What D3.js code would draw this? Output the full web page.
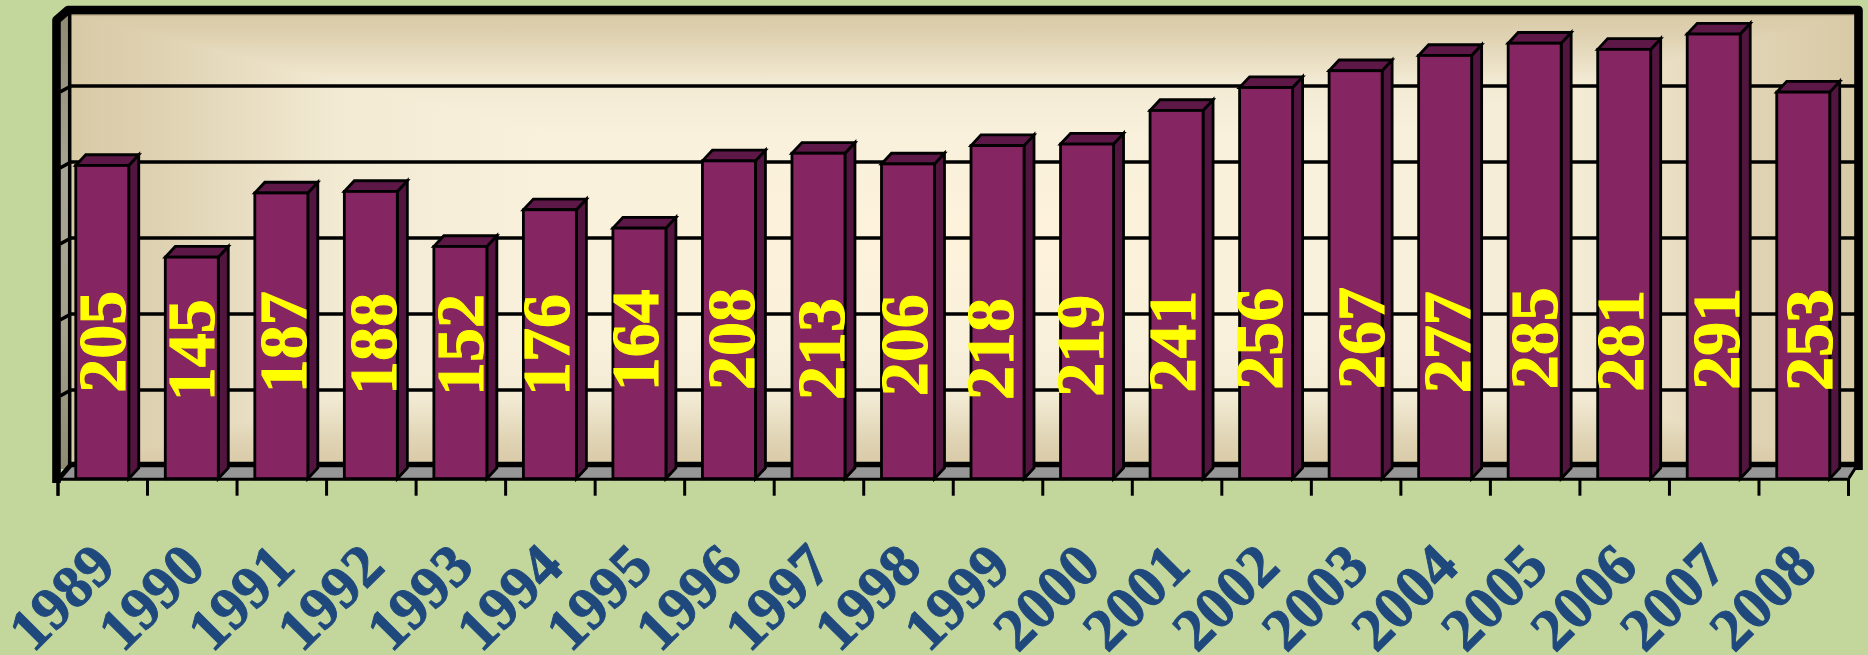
<!DOCTYPE html>
<html><head><meta charset="utf-8">
<style>html,body{margin:0;padding:0;background:#C3D69B;overflow:hidden}svg{display:block}</style>
<script src="https://cdn.jsdelivr.net/npm/d3@7/dist/d3.min.js"></script>
</head><body><script>
const years = ["1989","1990","1991","1992","1993","1994","1995","1996","1997","1998","1999","2000","2001","2002","2003","2004","2005","2006","2007","2008"];
const values = [205,145,187,188,152,176,164,208,213,206,218,219,241,256,267,277,285,281,291,253];
const yTickCount = 6;
const yMax = 300;

// The original's data labels were hand-placed: offsets from the bar centre / a common line.
const labelNudgeX = [-0.5,-0.5,2.2,2.5,-0.3,-3.9,-4.4,1.8,2.4,-3.9,-7.3,-7.3,-4.5,-6.8,5.4,2.3,-0.7,-4.1,2.3,5.3];
const labelNudgeY = [-0.3,8.3,0.2,2,3,3,-1.7,-3,7,3.3,7,3.8,-0.5,-3.3,-4,0.3,-3.7,-1.2,-3.3,-2];

const W=1868,H=655, baseY=478.7, left=57.5, right=1848;
const barDX=10, barDY=10.7;
const svg=d3.select("body").append("svg").attr("width",W).attr("height",H);
svg.append("rect").attr("width",W).attr("height",H).attr("fill","#C3D69B");
const x=d3.scaleBand().domain(years).range([left,right]).paddingInner(0.408).paddingOuter(0.204);
const y=d3.scaleLinear().domain([0,yMax]).range([baseY,baseY-458.4]);
const yBack=d3.scaleLinear().domain([0,yMax]).range([466,10]);
const defs=svg.append("defs");
const line=d3.line();

// back wall: rectangular path gradient from four mitred triangles
const wx0=71,wx1=1855,wy0=14,wy1=466, cx=960, cy=240;
const stops=[[0,"#D9CAA6"],[0.1,"#DFD2B2"],[0.3,"#F2EAD3"],[0.55,"#F9F1DC"],[1,"#FEF2DA"]];
const sides=[
 {id:"gT",g:[cx,wy0,cx,cy],p:[[wx0,wy0],[wx1,wy0],[cx,cy]]},
 {id:"gB",g:[cx,wy1,cx,cy],p:[[wx0,wy1],[wx1,wy1],[cx,cy]]},
 {id:"gL",g:[wx0,cy,cx,cy],p:[[wx0,wy0],[wx0,wy1],[cx,cy]]},
 {id:"gR",g:[wx1,cy,cx,cy],p:[[wx1,wy0],[wx1,wy1],[cx,cy]]}];
sides.forEach(s=>{
  const g=defs.append("linearGradient").attr("id",s.id).attr("gradientUnits","userSpaceOnUse")
    .attr("x1",s.g[0]).attr("y1",s.g[1]).attr("x2",s.g[2]).attr("y2",s.g[3]);
  stops.forEach(d=>g.append("stop").attr("offset",d[0]).attr("stop-color",d[1]));
  svg.append("path").attr("d",line(s.p)+"Z").attr("fill",`url(#${s.id})`).attr("shape-rendering","crispEdges");
});
const sideG=defs.append("linearGradient").attr("id","gS").attr("x1",0).attr("y1",0).attr("x2",0).attr("y2",1);
[[0,"#8F8A72"],[0.35,"#A8A495"],[0.7,"#A5A08C"],[1,"#8F8A72"]].forEach(d=>sideG.append("stop").attr("offset",d[0]).attr("stop-color",d[1]));
svg.append("rect").attr("x",60).attr("y",14).attr("width",11).attr("height",455).attr("fill","url(#gS)");

// shadow under top border
svg.append("rect").attr("x",71).attr("y",14).attr("width",wx1-71).attr("height",1.5).attr("fill","#A99B7B");

// gridlines
const grid=svg.append("g");
y.ticks(yTickCount).filter(v=>v>0&&v<yMax).forEach(v=>{
  const yb=yBack(v);
  grid.append("path").attr("d",line([[60,yb+6],[71,yb],[wx1,yb]])).attr("fill","none").attr("stroke","#000").attr("stroke-width",3.6);
});

// floor
svg.append("path").attr("d",line([[60,baseY],[72,wy1],[1856,wy1],[right,baseY]])+"Z").attr("fill","#969696");

// wall frame
const frame=[
 {p:[[56.5,483],[56.5,20],[68,10],[1858.5,10],[1858.5,470]],w:8.6},
 {p:[[69.7,12],[69.7,464.5],[1855,464.5]],w:3.5},
 {p:[[71,464.5],[1855,464.5]],w:5.5},
 {p:[[57,481],[71,464.5]],w:5},
 {p:[[1849,478],[1856,467],[1860,467]],w:3}];
frame.forEach(f=>svg.append("path").attr("d",line(f.p)).attr("fill","none").attr("stroke","#000").attr("stroke-width",f.w).attr("stroke-linejoin","round"));

// bars
const bars=svg.append("g").selectAll("g").data(years.map((c,i)=>({c,v:values[i],i}))).join("g")
  .attr("stroke","#000").attr("stroke-width",2.8).attr("stroke-linejoin","miter");
const bw=x.bandwidth();
bars.append("path").attr("fill","#52153F").attr("d",d=>{
  const r=x(d.c)+bw,t=y(d.v);
  return line([[r,t],[r+barDX,t-barDY],[r+barDX,baseY-barDY],[r,baseY]])+"Z";});
bars.append("path").attr("fill","#5E1848").attr("d",d=>{
  const l=x(d.c),r=l+bw,t=y(d.v);
  return line([[l,t],[l+barDX,t-barDY],[r+barDX,t-barDY],[r,t]])+"Z";});
bars.append("rect").attr("fill","#852562").attr("x",d=>x(d.c)).attr("y",d=>y(d.v))
  .attr("width",bw).attr("height",d=>baseY-y(d.v));

// baseline + category-edge ticks
const edge=d3.scaleLinear().domain([0,years.length]).range([left,right]);
const tickAxis=svg.append("g").attr("transform",`translate(0,${baseY})`)
  .call(d3.axisBottom(edge).tickValues(d3.range(years.length+1)).tickSize(17).tickFormat(""));
tickAxis.selectAll("line").attr("stroke","#000").attr("stroke-width",3);
tickAxis.select(".domain").attr("stroke","#000").attr("stroke-width",3);

// category labels
const catAxis=svg.append("g").attr("transform",`translate(0,${baseY})`)
  .call(d3.axisBottom(x).tickSize(0).tickPadding(0));
catAxis.select(".domain").remove();
catAxis.selectAll("text")
  .attr("font-family","'Liberation Serif','Times New Roman',serif").attr("font-weight","bold")
  .attr("font-size",60).attr("fill","#1F497D").attr("stroke","#1F497D").attr("stroke-width",0.9).attr("text-anchor","middle")
  .attr("y",0).attr("dy","0.34em")
  .attr("transform",`translate(-41,${597-baseY}) rotate(-45)`);

// value labels
svg.append("g").selectAll("text").data(values).join("text")
  .attr("font-family","'Liberation Serif','Times New Roman',serif").attr("font-weight","bold")
  .attr("font-size",68).attr("fill","#FFFF00").attr("stroke","#FFFF00").attr("stroke-width",1.1).attr("text-anchor","middle").attr("dy","0.338em")
  .attr("transform",(v,i)=>`translate(${x(years[i])+bw/2+labelNudgeX[i]},${342+labelNudgeY[i]}) rotate(-90)`)
  .text(v=>v);
</script></body></html>
